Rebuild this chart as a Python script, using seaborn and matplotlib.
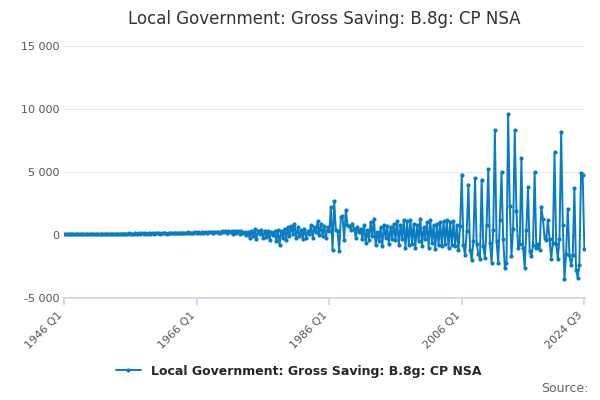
import matplotlib.pyplot as plt
import seaborn as sns
import pandas as pd
import numpy as np

title = "Local Government: Gross Saving: B.8g: CP NSA"
series_name = "Local Government: Gross Saving: B.8g: CP NSA"
start_year = 1946

# quarterly values, 1946 Q1 .. 2024 Q3
v_1946_1965 = [
    60, 70, 50, 80, 60, 70, 55, 75, 65, 70, 60, 80, 70, 75, 60, 85,
    70, 80, 65, 90, 75, 85, 60, 95, 80, 90, 70, 100, 85, 95, 75, 105,
    90, 100, 80, 110, 95, 105, 85, 120, 100, 110, 90, 125, 105, 120, 95, 130,
    110, 125, 100, 140, 115, 130, 105, 150, 120, 140, 110, 160, 130, 150, 115, 170,
    140, 160, 120, 180, 150, 170, 130, 190, 160, 180, 140, 200, 170, 190, 150, 210,
]
v_1966_1985 = [
    180, 200, 150, 230, 190, 220, 160, 250, 200, 240, 170, 270, 210, 260, 160, 300,
    220, 280, 150, 320, 200, 300, 100, 350, 180, 320, 60, 280, 150, 250, 20, 200,
    -250, 300, -100, 450, -300, 350, 50, 400, -200, 300, -150, 350, -400, 250, 0, 300,
    -500, 400, -800, 300, -200, 500, -400, 600, -100, 700, 100, 900, -200, 600, -100, 400,
    -300, 500, -200, 300, 100, 800, -200, 600, 200, 1100, 0, 900, -100, 700, -200, 600,
]
v_1986_2005 = [
    300, 2200, -1200, 2700, 400, 300, -1300, 1400, 1500, -400, 2000, 800, 700, 400, 900, 500,
    -200, 600, 200, 500, -300, 800, -600, 400, -400, 1000, -100, 1300, -800, 200, -500, 600,
    -900, 800, -200, 700, -700, 600, -300, 900, -400, 1100, -800, 800, -300, 1200, -1000, 1100,
    -800, 1200, -700, 900, -1000, 800, -500, 1300, -900, 600, -300, 1000, -1000, 1200, -600, 800,
    -1100, 900, -800, 1000, -900, 1100, -700, 1200, -1000, 1000, -800, 1100, -900, 800, -1200, 700,
]
v_2006_2024 = [
    4800, -800, -1600, 300, 4000, -1200, -2000, -500, 4500, -700, -1500, -1900, 4400, -900, -1800, 800,
    5200, -600, -2200, 400, 8300, -500, -2200, 1200, 5000, -300, -2600, -2200, 9600, 2300, -1700, 500,
    8300, 1900, -1000, -700, 6100, -1000, -2600, 400, 3800, -1300, -1700, -800, 5000, -1000, -700, -1200,
    2200, 1300, -200, -400, 1200, -300, -1900, -600, 6600, -700, -1900, -300, 8200, 800, -3500, -1500,
    2100, -1600, -2400, -1600, 3700, -2800, -3400, -2400, 4900, 4800, -1100,
]
values = v_1946_1965 + v_1966_1985 + v_1986_2005 + v_2006_2024

df = pd.DataFrame({"t": start_year + np.arange(len(values)) / 4, "value": values})

sns.set_theme(style="white")
plt.rcParams["font.family"] = ["DejaVu Sans"]
color = "#0a7dc2"

fig, ax = plt.subplots(figsize=(6, 4), dpi=100)
sns.lineplot(data=df, x="t", y="value", ax=ax, color=color, linewidth=1.4,
             marker="o", markersize=3, markeredgewidth=0, label=series_name)

tick_pos = [1946, 1966, 1986, 2006, 2024.5]
tick_lab = ["1946 Q1", "1966 Q1", "1986 Q1", "2006 Q1", "2024 Q3"]
ax.set_xticks(tick_pos)
ax.set_xticklabels(tick_lab, rotation=45, ha="right", fontsize=8, color="#555555")
ax.set_xlim(1946, 2024.6)
ax.set_ylim(-5000, 15000)
ax.set_yticks([-5000, 0, 5000, 10000, 15000])
ax.set_yticklabels(["-5 000", "0", "5 000", "10 000", "15 000"], fontsize=8, color="#555555")
ax.yaxis.grid(True, color="#e6e6e6", linewidth=0.8)
for s in ["top", "right", "left"]:
    ax.spines[s].set_visible(False)
ax.spines["bottom"].set_color("#ccd6eb")
ax.tick_params(axis="x", length=5, color="#ccd6eb", bottom=True)
ax.tick_params(axis="y", length=0)
ax.set_xlabel("")
ax.set_ylabel("")
ax.set_title(title, fontsize=12, color="#333333", pad=16)
ax.legend(loc="upper center", bbox_to_anchor=(0.45, -0.22), frameon=False,
          prop={"weight": "bold", "size": 9})
fig.text(0.98, 0.02, "Source:", ha="right", fontsize=9, color="#666666")
fig.subplots_adjust(left=0.107, right=0.975, top=0.885, bottom=0.255)
fig.savefig("out.png", dpi=100)
